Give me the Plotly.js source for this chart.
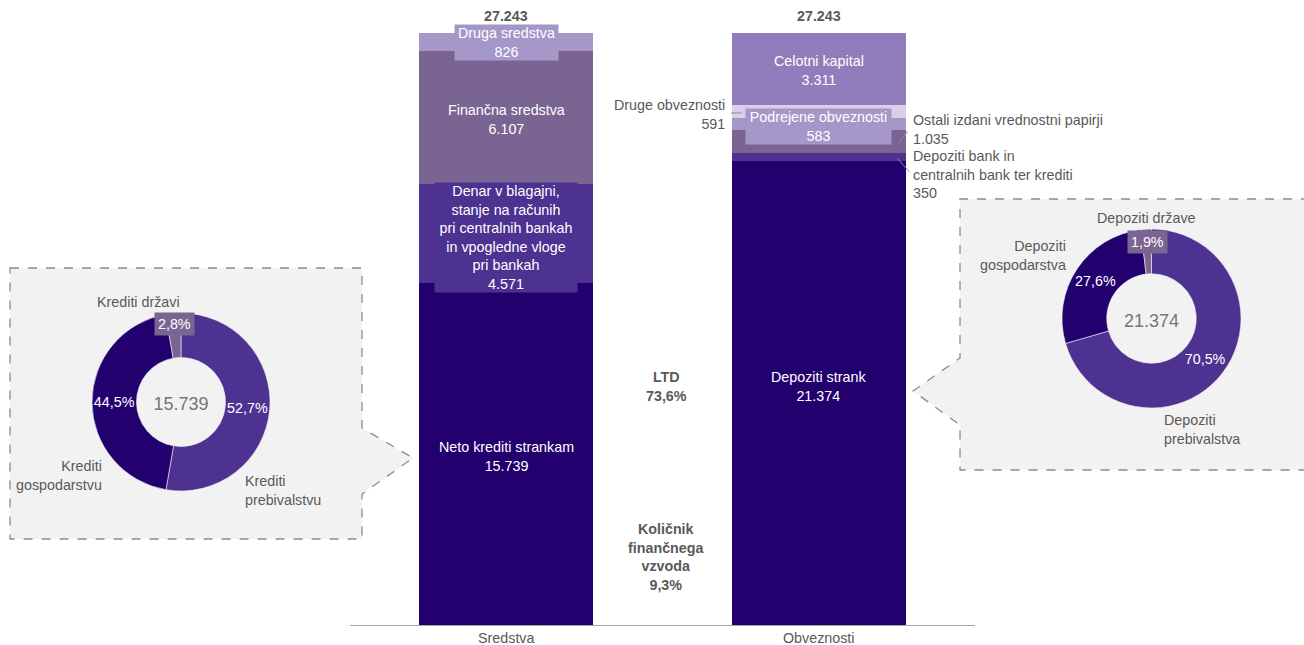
<!DOCTYPE html>
<html>
<head>
<meta charset="utf-8">
<script src="https://cdn.plot.ly/plotly-3.0.1.min.js"></script>
<style>
  html, body { margin: 0; padding: 0; background: #ffffff; }
  #chart { width: 1304px; height: 645px; }
</style>
</head>
<body>
<div id="chart"></div>
<script>
// ---------------- DATA ----------------
const categories = ['Sredstva', 'Obveznosti'];

const assetLabels = [
  'Neto krediti strankam',
  'Denar v blagajni,<br>stanje na računih<br>pri centralnih bankah<br>in vpogledne vloge<br>pri bankah',
  'Finančna sredstva',
  'Druga sredstva'
];
const assetValues = [15739, 4571, 6107, 826];

const liabLabels = [
  'Depoziti strank',
  'Depoziti bank in<br>centralnih bank ter krediti',
  'Ostali izdani vrednostni papirji',
  'Podrejene obveznosti',
  'Druge obveznosti',
  'Celotni kapital'
];
const liabValues = [21374, 350, 1035, 583, 591, 3311];

const totals = [27243, 27243];

const ratioLabels = ['LTD', 'Količnik<br>finančnega<br>vzvoda'];
const ratioValues = [73.6, 9.3];

const loanLabels = ['Krediti prebivalstvu', 'Krediti gospodarstvu', 'Krediti državi'];
const loanShares = [52.7, 44.5, 2.8];
const loanTotal = 15739;

const depLabels = ['Depoziti prebivalstva', 'Depoziti gospodarstva', 'Depoziti države'];
const depShares = [70.5, 27.6, 1.9];
const depTotal = 21374;

// ---------------- STYLE ----------------
const C_DARK = '#22006e';
const C_MID = '#4d3291';
const C_GP = '#7a6592';
const C_LIGHT = '#a597c8';
const C_CAP = '#927dbc';
const C_PALE = '#d8d0e8';
const assetColors = [C_DARK, C_MID, C_GP, C_LIGHT];
const liabColors = [C_DARK, C_MID, C_GP, C_LIGHT, C_PALE, C_CAP];
const GRAY = '#595959';
const FONT = 'Liberation Sans, Arial, Helvetica, sans-serif';
const FS = 14.3;

const W = 1304, TOP = 10, BASE = 625;
const PLOT_H = BASE - TOP;
const YMAX = 27243 * PLOT_H / 592;
function px2x(px) { return px / W; }
function px2y(py) { return (BASE - py) / PLOT_H; }

function fmt(v) { return String(Math.round(v)).replace(/\B(?=(\d{3})+(?!\d))/g, '.'); }
function pct(v) { return v.toFixed(1).replace('.', ',') + '%'; }

// ---------------- TRACES ----------------
const BARW = 0.557;
const traces = [];
assetValues.forEach((v, i) => {
  traces.push({
    type: 'bar', x: [categories[0]], y: [v], width: BARW,
    marker: { color: assetColors[i], line: { width: 0 } },
    name: assetLabels[i].replace(/<br>/g, ' '), hoverinfo: 'name+y', showlegend: false
  });
});
liabValues.forEach((v, i) => {
  traces.push({
    type: 'bar', x: [categories[1]], y: [v], width: BARW,
    marker: { color: liabColors[i], line: { width: 0 } },
    name: liabLabels[i].replace(/<br>/g, ' '), hoverinfo: 'name+y', showlegend: false
  });
});

function donut(values, labels, total, cx, cy, r) {
  return {
    type: 'pie', values: values, labels: labels, hole: 0.5, sort: false,
    direction: 'clockwise', rotation: 0,
    marker: { colors: [C_MID, C_DARK, C_GP], line: { color: '#f2f2f2', width: 0.6 } },
    texttemplate: ['%{percent}', '%{percent}', ''],
    textposition: 'inside', insidetextorientation: 'horizontal',
    insidetextfont: { color: '#ffffff', size: FS, family: FONT },
    domain: { x: [px2x(cx - r), px2x(cx + r)], y: [px2y(cy + r), px2y(cy - r)] },
    title: { text: fmt(total), position: 'middle center', font: { size: 18, color: '#767676', family: FONT } },
    showlegend: false, automargin: false, hoverinfo: 'label+percent'
  };
}
traces.push(donut(loanShares, loanLabels, loanTotal, 181, 402, 89));
traces.push(donut(depShares, depLabels, depTotal, 1151.5, 318.5, 89.5));

// ---------------- ANNOTATIONS ----------------
const ann = [];
function cumMid(vals, i) {
  let s = 0; for (let k = 0; k < i; k++) s += vals[k];
  return s + vals[i] / 2;
}
const white = { color: '#ffffff', size: FS, family: FONT };
const gray = { color: GRAY, size: FS, family: FONT };
function dA(o) { return Object.assign({ showarrow: false, xanchor: 'center', yanchor: 'middle' }, o); }
function pA(px, py, o) {
  return Object.assign({ xref: 'paper', yref: 'paper', x: px2x(px), y: px2y(py), showarrow: false, xanchor: 'center', yanchor: 'middle' }, o);
}

// inside labels - assets
ann.push(dA({ x: categories[0], y: cumMid(assetValues, 0), yshift: -3, text: assetLabels[0] + '<br>' + fmt(assetValues[0]), font: white }));
ann.push(dA({ x: categories[0], y: cumMid(assetValues, 1), yshift: -4, text: assetLabels[1] + '<br>' + fmt(assetValues[1]), font: white, bgcolor: C_MID, width: 142, borderpad: 0 }));
ann.push(dA({ x: categories[0], y: cumMid(assetValues, 2), yshift: -2, text: assetLabels[2] + '<br>' + fmt(assetValues[2]), font: white }));
ann.push(dA({ x: categories[0], y: cumMid(assetValues, 3), yshift: -1, text: assetLabels[3] + '<br>' + fmt(assetValues[3]), font: white, bgcolor: C_LIGHT, width: 103, borderpad: 0 }));

// inside labels - liabilities
ann.push(dA({ x: categories[1], y: cumMid(liabValues, 0), yshift: 6, text: liabLabels[0] + '<br>' + fmt(liabValues[0]), font: white }));
ann.push(dA({ x: categories[1], y: cumMid(liabValues, 3), yshift: -2, text: liabLabels[3] + '<br>' + fmt(liabValues[3]), font: white, bgcolor: C_LIGHT, width: 145, borderpad: 0 }));
ann.push(dA({ x: categories[1], y: cumMid(liabValues, 5), yshift: -2, text: liabLabels[5] + '<br>' + fmt(liabValues[5]), font: white }));

// outside labels - liabilities
ann.push(dA({ x: categories[1], xshift: -92, xanchor: 'right', align: 'right', y: cumMid(liabValues, 4), yshift: -3, text: liabLabels[4] + '<br>' + fmt(liabValues[4]), font: gray }));
ann.push(dA({ x: categories[1], xshift: 92, xanchor: 'left', align: 'left', y: cumMid(liabValues, 2), yshift: 12, text: liabLabels[2] + '<br>' + fmt(liabValues[2]), font: gray }));
ann.push(dA({ x: categories[1], xshift: 92, xanchor: 'left', align: 'left', y: cumMid(liabValues, 1), yshift: -18, text: liabLabels[1] + '<br>' + fmt(liabValues[1]), font: gray }));

// totals
categories.forEach((c, i) => {
  ann.push(dA({ x: c, y: totals[i], yshift: 17, text: '<b>' + fmt(totals[i]) + '</b>', font: gray }));
});

// ratios
ann.push(pA(666, 386.5, { text: '<b>' + ratioLabels[0] + '<br>' + pct(ratioValues[0]) + '</b>', font: gray }));
ann.push(pA(666, 556.5, { text: '<b>' + ratioLabels[1] + '<br>' + pct(ratioValues[1]) + '</b>', font: gray }));

// donut labels - loans
ann.push(pA(138, 302, { text: loanLabels[2], font: gray }));
ann.push(pA(104, 475, { xanchor: 'right', align: 'right', text: 'Krediti<br>gospodarstvu', font: gray }));
ann.push(pA(243, 490, { xanchor: 'left', align: 'left', text: 'Krediti<br>prebivalstvu', font: gray }));
ann.push(pA(174, 324, { text: pct(loanShares[2]), font: white, bgcolor: C_GP, borderpad: 3 }));

// donut labels - deposits
ann.push(pA(1146, 218, { text: depLabels[2], font: gray }));
ann.push(pA(1068, 255.5, { xanchor: 'right', align: 'right', text: 'Depoziti<br>gospodarstva', font: gray }));
ann.push(pA(1162, 429, { xanchor: 'left', align: 'left', text: 'Depoziti<br>prebivalstva', font: gray }));
ann.push(pA(1147, 242, { text: pct(depShares[2]), font: white, bgcolor: C_GP, borderpad: 3 }));

// ---------------- SHAPES ----------------
function path(pts, close) {
  let d = pts.map((p, i) => (i ? 'L' : 'M') + px2x(p[0]).toFixed(5) + ',' + px2y(p[1]).toFixed(5)).join(' ');
  return close ? d + ' Z' : d;
}
const shapes = [
  { type: 'path', xref: 'paper', yref: 'paper', layer: 'below',
    path: path([[10, 268], [362, 268], [362, 428], [413, 458], [362, 494], [362, 539], [10, 539]], true),
    fillcolor: '#f2f2f2', line: { color: '#8c8c8c', width: 1.3, dash: 'dash' } },
  { type: 'path', xref: 'paper', yref: 'paper', layer: 'below',
    path: path([[960, 199], [1310, 199], [1310, 470], [960, 470], [960, 425], [913, 391], [960, 358]], true),
    fillcolor: '#f2f2f2', line: { width: 0 } },
  { type: 'path', xref: 'paper', yref: 'paper', layer: 'below',
    path: path([[1310, 199], [960, 199], [960, 358], [913, 391], [960, 425], [960, 470], [1310, 470]], false),
    line: { color: '#8c8c8c', width: 1.3, dash: 'dash' } },
  { type: 'line', xref: 'paper', yref: 'paper', x0: px2x(731), y0: px2y(113), x1: px2x(742), y1: px2y(113), line: { color: '#8c8c8c', width: 1 } },
  { type: 'line', xref: 'paper', yref: 'paper', x0: px2x(899), y0: px2y(143), x1: px2x(907.5), y1: px2y(131.5), line: { color: '#8c8c8c', width: 1 } },
  { type: 'line', xref: 'paper', yref: 'paper', x0: px2x(898), y0: px2y(159), x1: px2x(909.5), y1: px2y(172), line: { color: '#8c8c8c', width: 1 } }
];

// ---------------- LAYOUT ----------------
const layout = {
  width: 1304, height: 645,
  margin: { l: 0, r: 0, t: TOP, b: 645 - BASE, pad: 0 },
  paper_bgcolor: '#ffffff', plot_bgcolor: 'rgba(0,0,0,0)',
  separators: ',.',
  barmode: 'stack', bargap: 0,
  showlegend: false,
  font: { family: FONT, size: FS, color: GRAY },
  xaxis: {
    domain: [350 / W, 975 / W], type: 'category',
    categoryorder: 'array', categoryarray: categories,
    range: [-0.5, 1.5],
    showline: true, linecolor: '#a6a6a6', linewidth: 1,
    ticks: '', showgrid: false, zeroline: false,
    tickfont: { size: FS, color: GRAY, family: FONT },
    automargin: false, fixedrange: true
  },
  yaxis: {
    range: [0, YMAX], visible: false, showgrid: false, zeroline: false,
    automargin: false, fixedrange: true
  },
  annotations: ann,
  shapes: shapes
};

Plotly.newPlot('chart', traces, layout, { displayModeBar: false, staticPlot: true });
</script>
</body>
</html>
